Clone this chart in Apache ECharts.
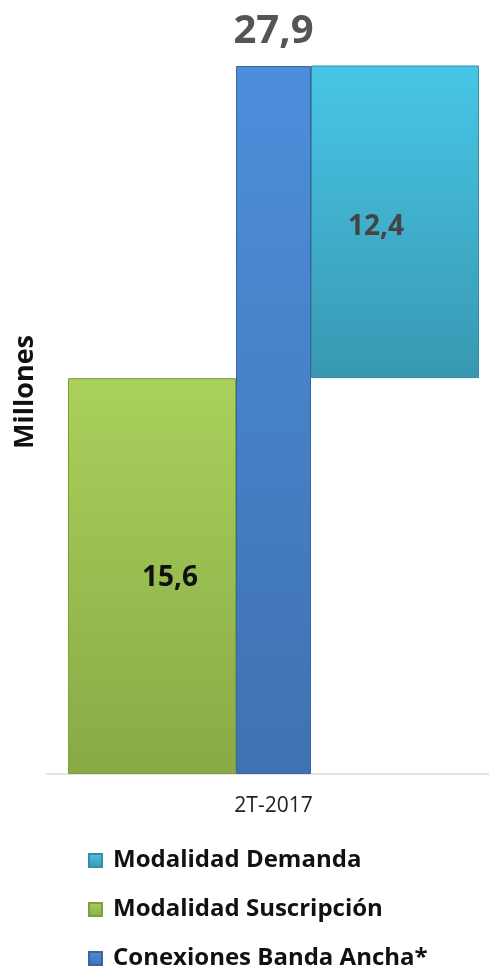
<!DOCTYPE html>
<html><head><meta charset="utf-8">
<script src="https://cdn.jsdelivr.net/npm/echarts@6/dist/echarts.min.js"></script>
<style>html,body{margin:0;padding:0;background:#fff}#c{width:489px;height:968px}</style>
</head><body><div id="c"></div>
<script>
const categories = ['2T-2017'];
const demanda = [12.4];
const suscripcion = [15.6];
const conexiones = [27.9];
const yTitle = 'Millones';
const fmt = p => String(p.value).replace('.', ',');
const grad = (a, b) => new echarts.graphic.LinearGradient(0, 0, 0, 1, [{offset: 0, color: a}, {offset: 1, color: b}]);
const chart = echarts.init(document.getElementById('c'));
chart.setOption({
  animation: false,
  textStyle: {fontFamily: 'Open Sans'},
  grid: [
    {left: 58, right: 0, top: 66, bottom: 194},
    {left: 47, right: 0, top: 66, bottom: 194}
  ],
  graphic: [{
    type: 'text', left: 12, top: 335, rotation: Math.PI / 2,
    style: {text: yTitle, fontSize: 27, fontWeight: 'bold', fill: '#111', fontFamily: 'Open Sans'}
  }],
  legend: {
    orient: 'vertical', left: 88, top: 845, height: 140, padding: 0,
    itemWidth: 13, itemHeight: 13, itemGap: 18, icon: 'rect',
    data: ['Modalidad Demanda', 'Modalidad Suscripción', 'Conexiones Banda Ancha*'],
    textStyle: {fontSize: 24, fontWeight: 'bold', color: '#111', fontFamily: 'Open Sans', lineHeight: 31, padding: [0, 0, 0, 6]}
  },
  xAxis: [{
    type: 'category', data: categories, gridIndex: 0,
    axisLine: {show: false}, axisTick: {show: false},
    axisLabel: {fontSize: 21, color: '#222', margin: 22, fontFamily: 'Open Sans'}
  }, {
    type: 'category', data: categories, gridIndex: 1,
    axisLine: {lineStyle: {color: '#d9d9d9', width: 1.5}},
    axisTick: {show: false}, axisLabel: {show: false}
  }],
  yAxis: [{
    type: 'value', min: 0, max: 27.9, gridIndex: 0,
    axisLine: {show: false}, axisTick: {show: false}, axisLabel: {show: false}, splitLine: {show: false}
  }, {
    type: 'value', min: 0, max: 27.9, gridIndex: 1, show: false
  }],
  series: [
    {name: 'Modalidad Suscripción', type: 'bar', data: suscripcion, barWidth: 168, barGap: '0%',
     itemStyle: {color: grad('#a9d15c', '#88aa45'), borderColor: '#7f9f3f', borderWidth: 1},
     label: {show: true, position: 'inside', offset: [18, 2], formatter: fmt, fontSize: 28, fontWeight: 'bold', color: '#111', fontFamily: 'Open Sans'}},
    {name: 'Conexiones Banda Ancha*', type: 'bar', data: conexiones, barWidth: 75, barGap: '0%',
     itemStyle: {color: grad('#4d8edb', '#3f72b0'), borderColor: '#3a66a0', borderWidth: 1},
     label: {show: true, position: 'top', distance: 14, formatter: fmt, fontSize: 40, fontWeight: 'bold', color: '#555', fontFamily: 'Open Sans'}},
    {name: 'base', type: 'bar', stack: 'd', data: suscripcion, barWidth: 168, barGap: '0%',
     itemStyle: {color: 'transparent'}, silent: true},
    {name: 'Modalidad Demanda', type: 'bar', stack: 'd', data: demanda, barWidth: 168, barGap: '0%',
     itemStyle: {color: grad('#48c6e6', '#3898b2'), borderColor: '#348ea8', borderWidth: 1},
     label: {show: true, position: 'inside', offset: [-19, 5], formatter: fmt, fontSize: 28, fontWeight: 'bold', color: '#444', fontFamily: 'Open Sans'}}
  ]
});
</script></body></html>
